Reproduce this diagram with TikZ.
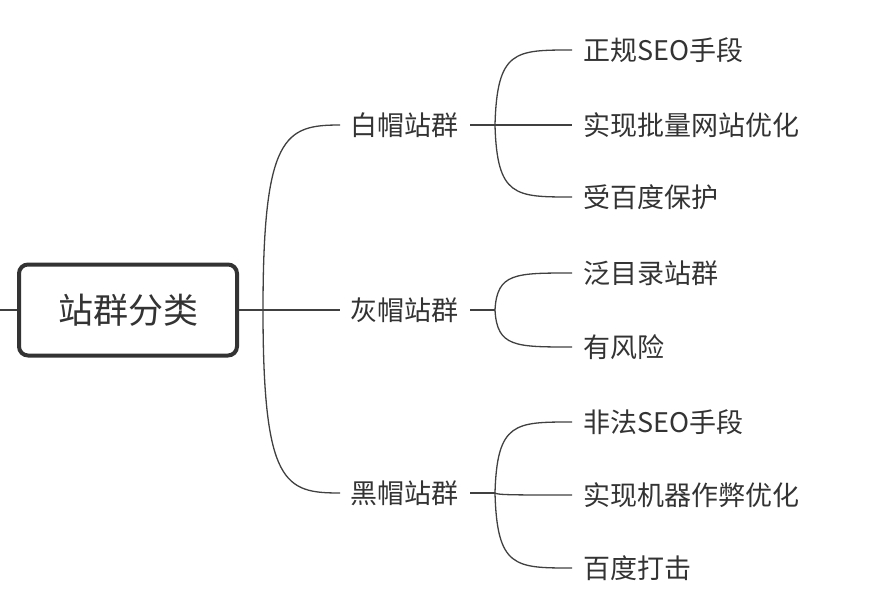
\documentclass[tikz,border=0pt]{standalone}
\usepackage{fontspec}
\newfontfamily\cjk{Noto Sans CJK SC}
\begin{document}
\begin{tikzpicture}[x=1pt,y=-1pt,
  ln/.style={draw=black!75,line width=1.3pt},
  t1/.style={anchor=west,font=\cjk\fontsize{27}{27}\selectfont,text=black!80,inner sep=0pt},
  t2/.style={anchor=west,font=\cjk\fontsize{27}{27}\selectfont,text=black!80,inner sep=0pt}]
\useasboundingbox (0,0) rectangle (875,610);
\node[draw=black!80,line width=4pt,rounded corners=9pt,minimum width=218pt,minimum height=91pt,font=\cjk\fontsize{35}{35}\selectfont,text=black!80] (root) at (128,310) {站群分类};
\coordinate (L) at (0,310);
\coordinate (J) at (263,310);
\draw[ln] (L) -- (root.west);
\draw[ln] (root.east) -- (J);
\foreach \n/\y/\txt in {a/125/白帽站群,b/310/灰帽站群,c/493/黑帽站群}{
  \node[t1] (\n) at (350,\y) {\txt};
  \coordinate (\n e) at (340,\y);
  \coordinate (\n s) at (470,\y);
  \coordinate (\n j) at (495,\y);
  \draw[ln] (\n s) -- (\n j);
}
\draw[ln] (J) .. controls (263,135) and (285,125) .. (ae);
\draw[ln] (J) -- (be);
\draw[ln] (J) .. controls (263,485) and (285,493) .. (ce);
\foreach \n/\p/\y/\txt in {a1/a/50/正规SEO手段,a2/a/125/实现批量网站优化,a3/a/197/受百度保护,
  b1/b/273/泛目录站群,b2/b/347/有风险,
  c1/c/422/非法SEO手段,c2/c/495/实现机器作弊优化,c3/c/568/百度打击}{
  \node[t2] (\n) at (583,\y) {\txt};
  \coordinate (\n e) at (572,\y);
  \draw[ln] (\p j) .. controls (497,\y) and (515,\y) .. (\n e);
}
\end{tikzpicture}
\end{document}
